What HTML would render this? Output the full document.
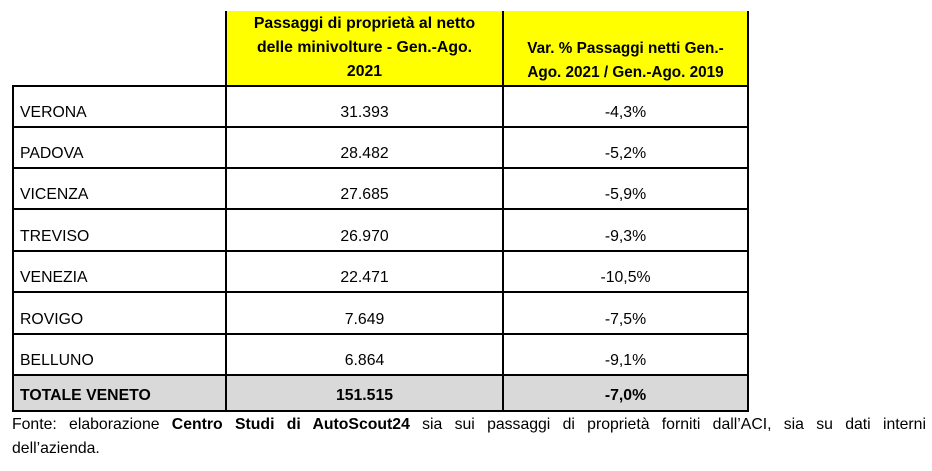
<!DOCTYPE html>
<html><head><style>
body{margin:0;width:932px;height:471px;background:#fff;font-family:"Liberation Sans",sans-serif;position:relative;overflow:hidden;color:#000}
.hl{position:absolute;background:#000}
.c{position:absolute;font-size:15.8px;white-space:nowrap}
.cc{text-align:center}
</style></head><body>
<div style="position:absolute;left:226px;top:11px;width:522px;height:75px;background:#ffff00"></div>
<div style="position:absolute;left:14px;top:376px;width:734px;height:35px;background:#d9d9d9"></div>
<div class="hl" style="left:225px;top:11px;width:2px;height:401px"></div>
<div class="hl" style="left:502px;top:11px;width:2px;height:401px"></div>
<div class="hl" style="left:747px;top:11px;width:2px;height:401px"></div>
<div class="hl" style="left:12px;top:85px;width:2px;height:327px"></div>
<div class="hl" style="left:12px;top:85px;width:737px;height:2px"></div>
<div class="hl" style="left:12px;top:126px;width:737px;height:2px"></div>
<div class="hl" style="left:12px;top:167px;width:737px;height:2px"></div>
<div class="hl" style="left:12px;top:208px;width:737px;height:2px"></div>
<div class="hl" style="left:12px;top:250px;width:737px;height:2px"></div>
<div class="hl" style="left:12px;top:291px;width:737px;height:2px"></div>
<div class="hl" style="left:12px;top:333px;width:737px;height:2px"></div>
<div class="hl" style="left:12px;top:374px;width:737px;height:2px"></div>
<div class="hl" style="left:12px;top:410px;width:737px;height:2px"></div>
<div class="c cc" style="left:227px;top:12px;width:275px;font-weight:bold;line-height:24px">Passaggi di proprietà al netto<br>delle minivolture - Gen.-Ago.<br>2021</div>
<div class="c cc" style="left:504px;top:37px;width:243px;font-size:15.3px;font-weight:bold;line-height:24px">Var. % Passaggi netti Gen.-<br>Ago. 2021 / Gen.-Ago. 2019</div>
<div class="c" style="left:20px;top:104px">VERONA</div><div class="c cc" style="left:227px;width:275px;top:104px">31.393</div><div class="c cc" style="left:504px;width:243px;top:104px">-4,3%</div>
<div class="c" style="left:20px;top:145px">PADOVA</div><div class="c cc" style="left:227px;width:275px;top:145px">28.482</div><div class="c cc" style="left:504px;width:243px;top:145px">-5,2%</div>
<div class="c" style="left:20px;top:186px">VICENZA</div><div class="c cc" style="left:227px;width:275px;top:186px">27.685</div><div class="c cc" style="left:504px;width:243px;top:186px">-5,9%</div>
<div class="c" style="left:20px;top:228px">TREVISO</div><div class="c cc" style="left:227px;width:275px;top:228px">26.970</div><div class="c cc" style="left:504px;width:243px;top:228px">-9,3%</div>
<div class="c" style="left:20px;top:269px">VENEZIA</div><div class="c cc" style="left:227px;width:275px;top:269px">22.471</div><div class="c cc" style="left:504px;width:243px;top:269px">-10,5%</div>
<div class="c" style="left:20px;top:311px">ROVIGO</div><div class="c cc" style="left:227px;width:275px;top:311px">7.649</div><div class="c cc" style="left:504px;width:243px;top:311px">-7,5%</div>
<div class="c" style="left:20px;top:352px">BELLUNO</div><div class="c cc" style="left:227px;width:275px;top:352px">6.864</div><div class="c cc" style="left:504px;width:243px;top:352px">-9,1%</div>
<div class="c" style="left:20px;top:387px;font-weight:bold">TOTALE VENETO</div><div class="c cc" style="left:227px;width:275px;top:387px;font-weight:bold">151.515</div><div class="c cc" style="left:504px;width:243px;top:387px;font-weight:bold">-7,0%</div>
<div style="position:absolute;left:12px;top:413px;width:914px;font-size:15.8px;line-height:24px;text-align:justify;text-align-last:justify;white-space:nowrap">Fonte: elaborazione <b>Centro Studi di AutoScout24</b> sia sui passaggi di proprietà forniti dall’ACI, sia su dati interni</div>
<div style="position:absolute;left:12px;top:437px;font-size:15.8px;line-height:24px">dell’azienda.</div>
</body></html>
